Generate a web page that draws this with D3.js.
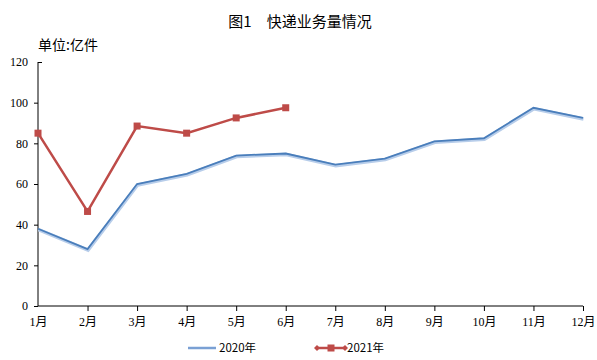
<!DOCTYPE html>
<html><head><meta charset="utf-8">
<script src="https://cdn.jsdelivr.net/npm/d3@7"></script>
<style>body{margin:0;background:#fff}</style>
</head><body>
<svg id="c" width="597" height="360"></svg>
<script>
const months = ["1月","2月","3月","4月","5月","6月","7月","8月","9月","10月","11月","12月"];
const v2020 = [38, 28, 60, 65, 74, 75, 69.5, 72.5, 81, 82.5, 97.5, 92.5];
const v2021 = [85, 46.5, 88.5, 85, 92.5, 97.5];
const yTicks = [0, 20, 40, 60, 80, 100, 120];
const title = "图1　快递业务量情况";
const unit = "单位:亿件";
const seriesNames = ["2020年", "2021年"];

const svg = d3.select("#c");
const x = d3.scalePoint().domain(months).range([38, 583]);
const y = d3.scaleLinear().domain([0, 120]).range([306, 62]);
const serif = "'Liberation Serif', 'Noto Sans CJK SC', serif";
const sans = "'Noto Sans CJK SC', sans-serif";

svg.append("text").attr("x", 300).attr("y", 27).attr("text-anchor", "middle")
  .attr("font-family", sans).attr("font-size", 15).text(title);
svg.append("text").attr("x", 38).attr("y", 50)
  .attr("font-family", sans).attr("font-size", 14).text(unit);

// y axis
const ya = svg.append("g").attr("transform", "translate(38,0)")
  .call(d3.axisLeft(y).tickValues(yTicks).tickSize(4).tickPadding(6));
ya.select(".domain").attr("d", `M0,${y(120)}V${y(0)}`).attr("stroke", "#000");
ya.selectAll(".tick line").attr("stroke", "#000")
  .attr("x2", d => d === 120 ? 4 : -4);
ya.selectAll(".tick text").attr("font-family", serif).attr("font-size", 12).attr("fill", "#000");

// x axis
const xa = svg.append("g").attr("transform", "translate(0,306)")
  .call(d3.axisBottom(x).tickSize(5).tickPadding(4));
xa.select(".domain").attr("d", `M38,0H583`).attr("stroke", "#000");
xa.selectAll(".tick line").attr("stroke", "#000").attr("opacity", (d, i) => i === 0 ? 0 : 1);
xa.selectAll(".tick text").attr("font-family", serif).attr("font-size", 12).attr("fill", "#000").attr("dy", "0.9em");

const line = d3.line().x((d, i) => x(months[i])).y(d => y(d));

// 2020 line with soft halo
svg.append("path").datum(v2020).attr("d", line).attr("fill", "none")
  .attr("stroke", "#b7cdea").attr("stroke-width", 3.5).attr("transform", "translate(0.5,1)");
svg.append("path").datum(v2020).attr("d", line).attr("fill", "none")
  .attr("stroke", "#4a7ebb").attr("stroke-width", 1.8);

// 2021 line
svg.append("path").datum(v2021).attr("d", line).attr("fill", "none")
  .attr("stroke", "#be4b48").attr("stroke-width", 2.5);
svg.selectAll(".m21").data(v2021).enter().append("rect")
  .attr("x", (d, i) => x(months[i]) - 3.5).attr("y", d => y(d) - 3.5)
  .attr("width", 7).attr("height", 7).attr("fill", "#be4b48");

// legend
const lg = svg.append("g");
lg.append("line").attr("x1", 188).attr("x2", 216).attr("y1", 348).attr("y2", 348)
  .attr("stroke", "#7aa0d4").attr("stroke-width", 2.5);
lg.append("text").attr("x", 219).attr("y", 352).attr("font-family", sans).attr("font-size", 11.5).text(seriesNames[0]);
lg.append("line").attr("x1", 316).attr("x2", 346).attr("y1", 348).attr("y2", 348)
  .attr("stroke", "#be4b48").attr("stroke-width", 2.5);
lg.append("rect").attr("x", 327.5).attr("y", 344.5).attr("width", 7).attr("height", 7).attr("fill", "#be4b48");
[317, 345].forEach(cx => lg.append("path")
  .attr("d", `M${cx - 3},348L${cx},345L${cx + 3},348L${cx},351Z`).attr("fill", "#be4b48"));
lg.append("text").attr("x", 347).attr("y", 352).attr("font-family", sans).attr("font-size", 11.5).text(seriesNames[1]);
</script>
</body></html>
